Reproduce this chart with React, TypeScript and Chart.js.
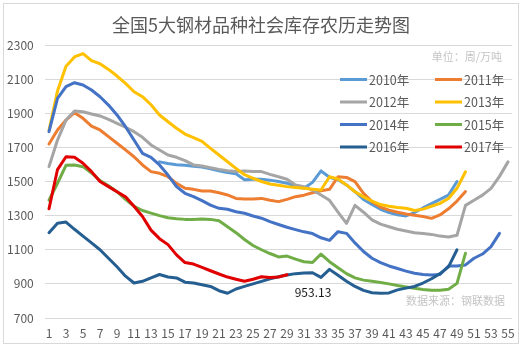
import React, { useEffect, useRef } from 'react';
import { Chart, registerables } from 'chart.js';

Chart.register(...registerables);

const weeks = [
  '1', '2', '3', '4', '5', '6', '7', '8', '9', '10', '11', '12', '13', '14', '15', '16', '17', '18', '19', '20',
  '21', '22', '23', '24', '25', '26', '27', '28', '29', '30', '31', '32', '33', '34', '35', '36', '37', '38', '39', '40',
  '41', '42', '43', '44', '45', '46', '47', '48', '49', '50', '51', '52', '53', '54', '55',
];

const yMin = 700;
const yMax = 2300;
const yStep = 200;

const s2010 = [
  null, null, null, null, null, null, null, null, null, null, null, null, null,
  1615, 1605, 1598, 1595, 1590, 1585, 1575, 1563, 1552, 1545, 1510, 1513, 1513, 1508, 1500, 1490, 1470,
  1460, 1495, 1562, 1525, 1510, 1480, 1440, 1395, 1365, 1337, 1318, 1305, 1298, 1318, 1345, 1370, 1395, 1420, 1500,
];
const s2011 = [
  1720, 1802, 1860, 1903, 1870, 1825, 1802, 1763, 1724, 1685, 1645, 1597, 1558, 1548, 1528, 1489, 1460, 1454, 1444, 1444,
  1434, 1421, 1401, 1397, 1397, 1401, 1390, 1382, 1395, 1411, 1420, 1434, 1445, 1454, 1528, 1524, 1499, 1431, 1382, 1350,
  1332, 1320, 1310, 1302, 1295, 1284, 1304, 1340, 1385, 1441,
];
const s2012 = [
  1587, 1743, 1860, 1913, 1909, 1896, 1884, 1864, 1841, 1818, 1792, 1759, 1714, 1685, 1655, 1642, 1622, 1597, 1591, 1581,
  1571, 1563, 1558, 1562, 1558, 1558, 1542, 1528, 1513, 1480, 1470, 1450, 1421, 1390, 1320, 1255, 1360, 1320, 1275, 1250,
  1235, 1220, 1210, 1200, 1195, 1190, 1180, 1175, 1185, 1360, 1390, 1420, 1460, 1530, 1615,
];
const s2013 = [
  1800, 2030, 2175, 2230, 2250, 2208, 2190, 2157, 2118, 2075, 2026, 1997, 1950, 1890, 1850, 1812, 1778, 1757, 1735, 1694,
  1655, 1616, 1577, 1540, 1519, 1500, 1485, 1478, 1470, 1465, 1460, 1455, 1450, 1528, 1515, 1480, 1440, 1410, 1385, 1365,
  1355, 1348, 1343, 1330, 1338, 1355, 1372, 1400, 1460, 1557,
];
const s2014 = [
  1792, 1987, 2056, 2079, 2066, 2036, 1997, 1948, 1890, 1821, 1743, 1665, 1642, 1597, 1538, 1470, 1431, 1411, 1388, 1362,
  1343, 1337, 1323, 1314, 1298, 1285, 1265, 1248, 1232, 1218, 1205, 1195, 1170, 1155, 1206, 1196, 1140, 1090, 1050, 1025,
  1005, 990, 975, 962, 955, 952, 955, 1005, 1005, 1011, 1050, 1075, 1118, 1196,
];
const s2015 = [
  1390, 1490, 1595, 1597, 1587, 1550, 1505, 1475, 1440, 1395, 1355, 1330, 1315, 1300, 1288, 1282, 1278, 1278, 1280, 1278,
  1270, 1235, 1200, 1160, 1125, 1100, 1078, 1058, 1063, 1045, 1030, 1025, 1075, 1030, 995, 960, 935, 922, 915, 908,
  900, 890, 882, 875, 867, 862, 862, 868, 903, 1080,
];
const s2016 = [
  1200, 1255, 1262, 1220, 1180, 1140, 1100, 1050, 1000, 945, 905, 915, 935, 955, 940, 935, 910, 905, 895, 885,
  860, 845, 870, 885, 900, 915, 930, 942, 952, 960, 964, 965, 938, 985, 950, 915, 885, 862, 848, 845,
  847, 865, 875, 885, 905, 930, 960, 1000, 1100,
];
const s2017 = [
  1340, 1570, 1645, 1642, 1607, 1558, 1500, 1470, 1440, 1410, 1355, 1295, 1215, 1165, 1130, 1070, 1025, 1016, 997, 977,
  958, 940, 927, 915, 927, 942, 937, 940, 953.13,
];

const seriesLabels = ['2010年', '2011年', '2012年', '2013年', '2014年', '2015年', '2016年', '2017年'];
const seriesData = [s2010, s2011, s2012, s2013, s2014, s2015, s2016, s2017];
const seriesColors = ['#5B9BD5', '#ED7D31', '#A5A5A5', '#FFC000', '#4472C4', '#70AD47', '#255E91', '#E00000'];

const titleText = '全国5大钢材品种社会库存农历走势图';
const unitText = '单位：周/万吨';
const sourceText = '数据来源：钢联数据';

const FONT = '"Noto Sans CJK SC", "Noto Sans", sans-serif';

const decorPlugin = {
  id: 'decor',
  beforeDraw(chart: any) {
    const ctx = chart.ctx;
    ctx.save();
    ctx.fillStyle = '#ffffff';
    ctx.fillRect(0, 0, chart.width, chart.height);
    ctx.strokeStyle = '#d9d9d9';
    ctx.lineWidth = 1;
    ctx.strokeRect(3.5, 3.5, 515, 340);
    ctx.fillStyle = '#595959';
    ctx.font = `18px ${FONT}`;
    ctx.textAlign = 'center';
    ctx.textBaseline = 'middle';
    ctx.fillText(titleText, 261, 25);
    ctx.restore();
  },
  afterDatasetsDraw(chart: any) {
    const ctx = chart.ctx;
    ctx.save();
    // unit note
    ctx.fillStyle = '#c4c4c4';
    ctx.font = `11px ${FONT}`;
    ctx.textAlign = 'right';
    ctx.textBaseline = 'middle';
    ctx.fillText(unitText, 502, 57);
    // source note
    ctx.fillText(sourceText, 505, 301);
    // legend
    const ds = chart.data.datasets;
    ctx.font = `12.5px ${FONT}`;
    ctx.textAlign = 'left';
    for (let i = 0; i < ds.length; i++) {
      const col = i % 2;
      const row = Math.floor(i / 2);
      const lx = col === 0 ? 340 : 435;
      const ly = 79.5 + row * 22.5;
      ctx.strokeStyle = ds[i].borderColor;
      ctx.lineWidth = 3;
      ctx.lineCap = 'butt';
      ctx.beginPath();
      ctx.moveTo(lx, ly);
      ctx.lineTo(lx + 27, ly);
      ctx.stroke();
      ctx.fillStyle = '#595959';
      ctx.fillText(ds[i].label, lx + 29, ly + 0.5);
    }
    // data label for last 2017 point
    const meta = chart.getDatasetMeta(7);
    const idx = s2017.length - 1;
    const pt = meta.data[idx];
    if (pt) {
      ctx.fillStyle = '#1a1a1a';
      ctx.font = `12px ${FONT}`;
      ctx.textAlign = 'center';
      ctx.fillText(String(s2017[idx]), pt.x + 26, pt.y + 17.5);
    }
    ctx.restore();
  },
};

export default function App() {
  const ref = useRef<HTMLCanvasElement | null>(null);
  useEffect(() => {
    if (!ref.current) return;
    const chart = new Chart(ref.current, {
      type: 'line',
      data: {
        labels: weeks,
        datasets: seriesData.map((d, i) => ({
          label: seriesLabels[i],
          data: d,
          borderColor: seriesColors[i],
          backgroundColor: seriesColors[i],
          borderWidth: 3,
          pointRadius: 0,
          tension: 0,
          fill: false,
          spanGaps: false,
          borderJoinStyle: 'round',
          borderCapStyle: 'round',
          order: seriesData.length - i,
        })),
      },
      options: {
        animation: false,
        responsive: false,
        events: [],
        layout: { padding: { left: 0, right: 12.75, top: 45, bottom: 6 } },
        plugins: {
          legend: { display: false },
          title: { display: false },
          tooltip: { enabled: false },
        },
        scales: {
          x: {
            type: 'category',
            offset: true,
            grid: { display: false, drawTicks: false },
            border: { display: false },
            ticks: {
              autoSkip: false,
              maxRotation: 0,
              padding: 8,
              color: '#595959',
              font: { family: FONT, size: 12 },
              callback: (_v: any, i: number) => (i % 2 === 0 ? weeks[i] : ''),
            },
            afterFit: (s: any) => {
              s.height = 25;
            },
          },
          y: {
            min: yMin,
            max: yMax,
            grid: { color: '#d9d9d9', lineWidth: 1, drawTicks: false },
            border: { display: false },
            ticks: {
              stepSize: yStep,
              padding: 11,
              color: '#595959',
              font: { family: FONT, size: 12 },
              callback: (v: any) => String(v),
            },
            afterFit: (s: any) => {
              s.width = 44.75;
            },
          },
        },
      },
      plugins: [decorPlugin],
    });
    return () => chart.destroy();
  }, []);
  return (
    <div style={{ position: 'absolute', left: 0, top: 0, width: 525, height: 349 }}>
      <canvas ref={ref} width={525} height={349} style={{ display: 'block' }} />
    </div>
  );
}
